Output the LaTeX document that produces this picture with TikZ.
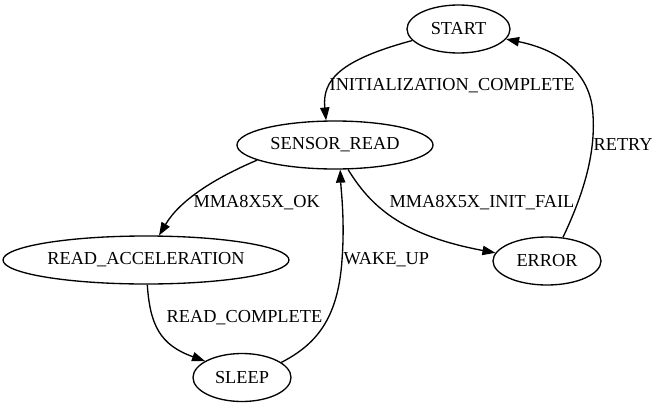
\documentclass[tikz,border=0pt]{standalone}
\usepackage{fontspec}
\setmainfont{Liberation Serif}
\usepackage{tikz}
\usetikzlibrary{shapes.geometric}
\usetikzlibrary{arrows.meta}

\begin{document}
\begin{tikzpicture}
    [
    x=1pt,y=-1pt,
    line width=1.33pt,
    >={Triangle[length=13pt,width=9.3pt]},
    state/.style={ellipse,draw,inner sep=0pt,minimum height=48pt,font=\fontsize{18.3pt}{22pt}\selectfont},
    tag/.style={anchor=west,inner sep=0pt,font=\fontsize{18.3pt}{22pt}\selectfont},
    ]
    \useasboundingbox (0,0) rectangle (658,407);
    \node (start) at (458.5,29) [state,minimum width=103pt] {START};
    \node (read) at (335,145) [state,minimum width=196pt] {SENSOR\_READ};
    \node (accel) at (146,260) [state,minimum width=286pt] {READ\_ACCELERATION};
    \node (error) at (547,261) [state,minimum width=108pt] {ERROR};
    \node (sleep) at (242,377.5) [state,minimum width=98pt] {SLEEP};

    \draw [->] (start.194) .. controls (340,60) and (322,80) .. (read.110);
    \draw [->] (read.191) .. controls (215,178) and (180,200) .. (accel.62);
    \draw [->] (read.-62) .. controls (370,205) and (400,235) .. (error.171);
    \draw [->] (error.56) .. controls (583,195) and (598,150) .. (592,105)
        .. controls (585,65) and (550,48) .. (start.-12);
    \draw [->] (accel.-87) .. controls (150,325) and (160,345) .. (sleep.156);
    \draw [->] (sleep.21) .. controls (315,345) and (338,320) .. (342,260)
        .. controls (345,220) and (341,190) .. (read.-78);

    \node (t1) at (329,86) [tag] {INITIALIZATION\_COMPLETE};
    \node (t2) at (193,203) [tag] {MMA8X5X\_OK};
    \node (t3) at (389,203) [tag] {MMA8X5X\_INIT\_FAIL};
    \node (t4) at (593,145) [tag] {RETRY};
    \node (t5) at (166,318) [tag] {READ\_COMPLETE};
    \node (t6) at (343,260) [tag] {WAKE\_UP};
  \end{tikzpicture}
\end{document}
